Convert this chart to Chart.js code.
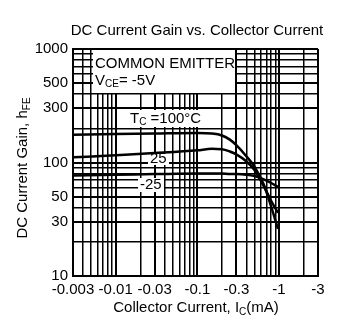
<!DOCTYPE html>
<html lang="en">
<head>
<meta charset="UTF-8">
<title>DC Current Gain vs. Collector Current</title>
<script src="https://cdn.jsdelivr.net/npm/chart.js@4"></script>
<style>
  * { margin: 0; padding: 0; }
  body { background: #fff; width: 341px; height: 327px; overflow: hidden; }
</style>
</head>
<body>
<canvas id="chart" width="341" height="327"></canvas>
<script>
// ─── values ──────────────────────────────────────────────────────────────────
const currentMA  = [0.003, 0.01, 0.03, 0.1, 0.15, 0.2, 0.25, 0.3, 0.4, 0.5, 0.65, 0.8, 0.97];   // |Ic| mA
const hfe100     = [176, 178, 180, 182, 180, 173, 159, 142, 113, 92, 64, 41, 26];
const hfe25      = [111, 116, 121, 128, 132, 131, 125, 118, 102, 86, 62, 46, 36];
const hfeMinus25 = [77, 78, 79, 80, 80, 80, 79, 79, 78, 76, 71, 66, 61];

// ─── axes: every grid line, and the ones that carry a label ───────────────────
const xGrid = [0.003, 0.004, 0.005, 0.006, 0.007, 0.008, 0.009,
               0.01, 0.02, 0.03, 0.04, 0.05, 0.06, 0.07, 0.08, 0.09,
               0.1, 0.2, 0.3, 0.4, 0.5, 0.6, 0.7, 0.8, 0.9, 1, 2, 3];
const xTicks     = [0.003, 0.01, 0.03, 0.1, 0.3, 1, 3];
const xTickText  = ['-0.003', '-0.01', '-0.03', '-0.1', '-0.3', '-1', '-3'];

const yGrid = [10, 20, 30, 40, 50, 60, 70, 80, 90,
               100, 200, 300, 400, 500, 600, 700, 800, 900, 1000];
const yTicks     = [10, 30, 50, 100, 300, 500, 1000];
const yTickText  = ['10', '30', '50', '100', '300', '500', '1000'];

const FONT  = '"Liberation Sans", Arial, Helvetica, sans-serif';
const BIG   = '15px ' + FONT;
const SMALL = '10px ' + FONT;

const near = (a, b) => Math.abs(a - b) / b < 1e-6;
const labelOf = (v, ticks, text) => {
  const i = ticks.findIndex(t => near(v, t));
  return i < 0 ? '' : text[i];
};
const points = ys => currentMA.map((x, i) => ({ x, y: ys[i] }));

// text with subscripts: parts = [[text, isSub], ...]
function drawRich(ctx, parts, x, y, align) {
  let w = 0;
  for (const [t, sub] of parts) { ctx.font = sub ? SMALL : BIG; w += ctx.measureText(t).width; }
  let cx = align === 'center' ? x - w / 2 : x;
  ctx.textAlign = 'left';
  ctx.textBaseline = 'middle';
  for (const [t, sub] of parts) {
    ctx.font = sub ? SMALL : BIG;
    ctx.fillText(t, cx, sub ? y + 4 : y);
    cx += ctx.measureText(t).width;
  }
}

// white patches under the notes (they hide the grid, not the curves)
const patches = [
  { x: 93,  y: 50,  w: 142, h: 43 },
  { x: 127, y: 110, w: 77,  h: 17 },
  { x: 148, y: 152, w: 21,  h: 13 },
  { x: 138, y: 178, w: 26,  h: 14 },
];

const sheet = {
  id: 'sheet',
  beforeDraw(chart) {
    const c = chart.ctx;
    c.save();
    c.fillStyle = '#fff';
    c.fillRect(0, 0, chart.width, chart.height);
    c.restore();
  },
  beforeDatasetsDraw(chart) {
    const c = chart.ctx;
    c.save();
    c.fillStyle = '#fff';
    patches.forEach(p => c.fillRect(p.x, p.y, p.w, p.h));
    c.restore();
  },
  afterDraw(chart) {
    const c = chart.ctx;
    c.save();
    c.fillStyle = '#000';

    drawRich(c, [['DC Current Gain vs. Collector Current']], 197, 31, 'center');
    drawRich(c, [['Collector Current, I'], ['C', true], ['(mA)']], 196, 308, 'center');

    c.save();
    c.translate(23, 168);
    c.rotate(-Math.PI / 2);
    drawRich(c, [['DC Current Gain, h'], ['FE', true]], 0, 0, 'center');
    c.restore();

    drawRich(c, [['COMMON EMITTER']], 95, 63.5, 'left');
    drawRich(c, [['V'], ['CE', true], ['= -5V']], 95, 80.5, 'left');
    drawRich(c, [['T'], ['C', true], [' =100°C']], 130, 118.5, 'left');
    drawRich(c, [['25']], 150, 158.5, 'left');
    drawRich(c, [['-25']], 140, 185, 'left');
    c.restore();
  }
};

const curve = ys => ({
  data: points(ys),
  borderColor: '#000',
  borderWidth: 2.5,
  pointRadius: 0,
  cubicInterpolationMode: 'monotone',
  fill: false,
});

new Chart(document.getElementById('chart'), {
  type: 'line',
  data: { datasets: [curve(hfe100), curve(hfe25), curve(hfeMinus25)] },
  options: {
    responsive: false,
    animation: false,
    devicePixelRatio: 1,
    layout: { padding: { top: 49, right: 23, left: 0, bottom: 0 } },
    plugins: { legend: { display: false }, title: { display: false }, tooltip: { enabled: false } },
    scales: {
      x: {
        type: 'logarithmic',
        min: 0.003, max: 3,
        afterBuildTicks: s => { s.ticks = xGrid.map(value => ({ value })); },
        afterFit: s => { s.height = 51; },
        ticks: {
          autoSkip: false, maxRotation: 0, padding: 5, color: '#000',
          font: { family: FONT, size: 15 },
          callback: v => labelOf(v, xTicks, xTickText),
        },
        grid: {
          color: '#000', drawTicks: false,
          lineWidth: ctx => xTicks.some(t => near(ctx.tick.value, t)) ? 2 : 1.5,
        },
        border: { color: '#000', width: 2 },
      },
      y: {
        type: 'logarithmic',
        min: 10, max: 1000,
        afterBuildTicks: s => { s.ticks = yGrid.map(value => ({ value })); },
        afterFit: s => { s.width = 73; },
        ticks: {
          autoSkip: false, padding: 5, color: '#000',
          font: { family: FONT, size: 15 },
          callback: v => labelOf(v, yTicks, yTickText),
        },
        grid: {
          color: '#000', drawTicks: false,
          lineWidth: ctx => yTicks.some(t => near(ctx.tick.value, t)) ? 2 : 1.5,
        },
        border: { color: '#000', width: 2 },
      },
    },
  },
  plugins: [sheet],
});
</script>
</body>
</html>
